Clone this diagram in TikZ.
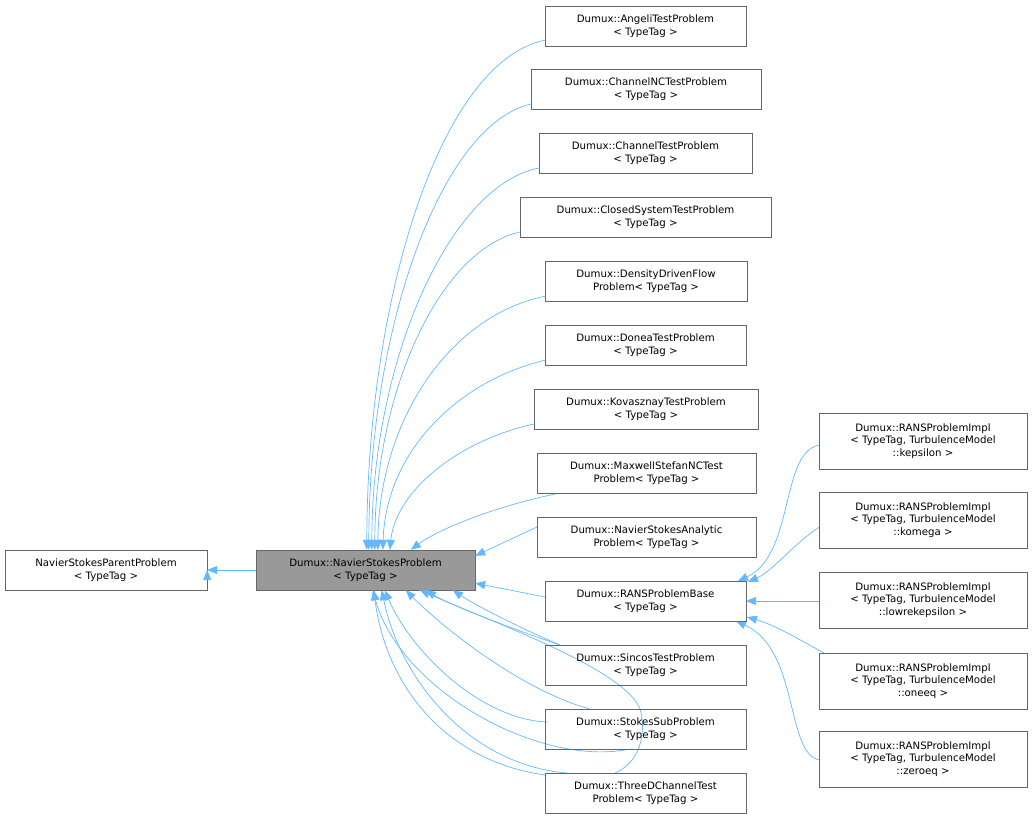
\documentclass[tikz,border=0pt]{standalone}
\usepackage{fontspec}
\setmainfont{DejaVu Sans}
\usetikzlibrary{arrows.meta,calc}
\definecolor{edgec}{HTML}{63B8FF}
\definecolor{boxc}{HTML}{666666}
\begin{document}
\begin{tikzpicture}[x=1pt,y=-1pt,
  cls/.style={draw=boxc,fill=white,align=center,inner sep=0pt,minimum height=40pt,font=\fontsize{10.2}{12.5}\selectfont},
  impl/.style={cls,minimum width=208pt,minimum height=56pt},
  inh/.style={draw=edgec,line width=0.7pt,-{Triangle[length=10pt,width=8pt,fill=edgec]}}]
\useasboundingbox (0,0) rectangle (1032,819);
% nodes positions
\coordinate (c) at (0,0);
\begin{scope}[every node/.append style={}]
\node[cls,minimum width=202pt] (parent) at (106,570) {NavierStokesParentProblem\\< TypeTag >};
\node[cls,minimum width=219pt,fill={rgb,255:red,153;green,153;blue,153}] (nsp) at (365.5,570) {Dumux::NavierStokesProblem\\< TypeTag >};
\end{scope}
% edges (drawn before child boxes)
\draw[inh] (parent.east) ++(0,0) coordinate (pe);
\draw[inh] (nsp.west) -- (parent.east);
\coordinate (nspT) at (nsp.north west);
\coordinate (nspB) at (nsp.south west);
\draw[inh] (546,40) .. controls (440,60) and (367,300) .. ($(nspT)+(111,0)$);
\draw[inh] (531,104) .. controls (440,125) and (369,330) .. ($(nspT)+(113,0)$);
\draw[inh] (539,168) .. controls (450,185) and (372,360) .. ($(nspT)+(116,0)$);
\draw[inh] (520,232) .. controls (440,250) and (375,390) .. ($(nspT)+(119,0)$);
\draw[inh] (546,296) .. controls (450,315) and (379,420) .. ($(nspT)+(122,0)$);
\draw[inh] (546,360) .. controls (460,380) and (386,450) .. ($(nspT)+(127,0)$);
\draw[inh] (534,424) .. controls (460,440) and (396,490) .. ($(nspT)+(134,0)$);
\draw[inh] (560,493) .. controls (500,505) and (440,528) .. ($(nspT)+(155,0)$);
\draw[inh] (537,527) -- ($(nsp.north east)+(0,6)$);
\draw[inh] (545,597) -- ($(nsp.south east)+(0,-7)$);
% bottom edges
\draw[inh] (560,645) .. controls (520,628) and (475,605) .. ($(nspB)+(197,0)$);
\draw[inh] (560,645) .. controls (510,628) and (450,605) .. ($(nspB)+(170,0)$);
\draw[inh] (615,773) .. controls (645,760) and (645,725) .. (640,709) .. controls (625,670) and (500,625) .. ($(nspB)+(164,0)$);
\draw[inh] (590,709) .. controls (520,690) and (440,625) .. ($(nspB)+(150,0)$);
\draw[inh] (548,722) .. controls (480,720) and (410,650) .. ($(nspB)+(129,0)$);
\draw[inh] (630,749) .. controls (540,768) and (400,690) .. ($(nspB)+(117,0)$);
\draw[inh] (567,773) .. controls (470,765) and (400,680) .. ($(nspB)+(126,0)$);
\draw[inh] (545,775) .. controls (440,760) and (385,680) .. ($(nspB)+(118,0)$);
% RANS edges
\draw[inh] (820,445) .. controls (780,450) and (795,555) .. (738,581);
\draw[inh] (832,520) .. controls (800,535) and (775,570) .. (748,582);
\draw[inh] (819,601) -- (746,601);
\draw[inh] (826,654) .. controls (800,640) and (775,625) .. (747,617);
\draw[inh] (820,760) .. controls (785,755) and (800,650) .. (736,621);
% child nodes
\node[cls,minimum width=201pt] (angeli) at (645.5,26) {Dumux::AngeliTestProblem\\< TypeTag >};
\node[cls,minimum width=230pt] (channelnc) at (646,89) {Dumux::ChannelNCTestProblem\\< TypeTag >};
\node[cls,minimum width=213pt] (channel) at (645.5,153) {Dumux::ChannelTestProblem\\< TypeTag >};
\node[cls,minimum width=251pt] (closed) at (645.5,217) {Dumux::ClosedSystemTestProblem\\< TypeTag >};
\node[cls,minimum width=202pt] (density) at (646,281) {Dumux::DensityDrivenFlow\\Problem< TypeTag >};
\node[cls,minimum width=201pt] (donea) at (645.5,345) {Dumux::DoneaTestProblem\\< TypeTag >};
\node[cls,minimum width=224pt] (kovas) at (646,409) {Dumux::KovasznayTestProblem\\< TypeTag >};
\node[cls,minimum width=219pt] (maxwell) at (646.5,473) {Dumux::MaxwellStefanNCTest\\Problem< TypeTag >};
\node[cls,minimum width=219pt] (nsanal) at (646.5,537) {Dumux::NavierStokesAnalytic\\Problem< TypeTag >};
\node[cls,minimum width=201pt] (ransbase) at (645.5,601) {Dumux::RANSProblemBase\\< TypeTag >};
\node[cls,minimum width=201pt,fill=none] (sincos) at (645.5,665) {Dumux::SincosTestProblem\\< TypeTag >};
\node[cls,minimum width=201pt,fill=none] (stokes) at (645.5,729) {Dumux::StokesSubProblem\\< TypeTag >};
\node[cls,minimum width=201pt] (threed) at (645.5,793) {Dumux::ThreeDChannelTest\\Problem< TypeTag >};
\node[impl] (kep) at (923,441) {Dumux::RANSProblemImpl\\< TypeTag, TurbulenceModel\\::kepsilon >};
\node[impl] (kom) at (923,520) {Dumux::RANSProblemImpl\\< TypeTag, TurbulenceModel\\::komega >};
\node[impl] (low) at (923,600) {Dumux::RANSProblemImpl\\< TypeTag, TurbulenceModel\\::lowrekepsilon >};
\node[impl] (one) at (923,681) {Dumux::RANSProblemImpl\\< TypeTag, TurbulenceModel\\::oneeq >};
\node[impl] (zero) at (923,759) {Dumux::RANSProblemImpl\\< TypeTag, TurbulenceModel\\::zeroeq >};
\end{tikzpicture}
\end{document}
